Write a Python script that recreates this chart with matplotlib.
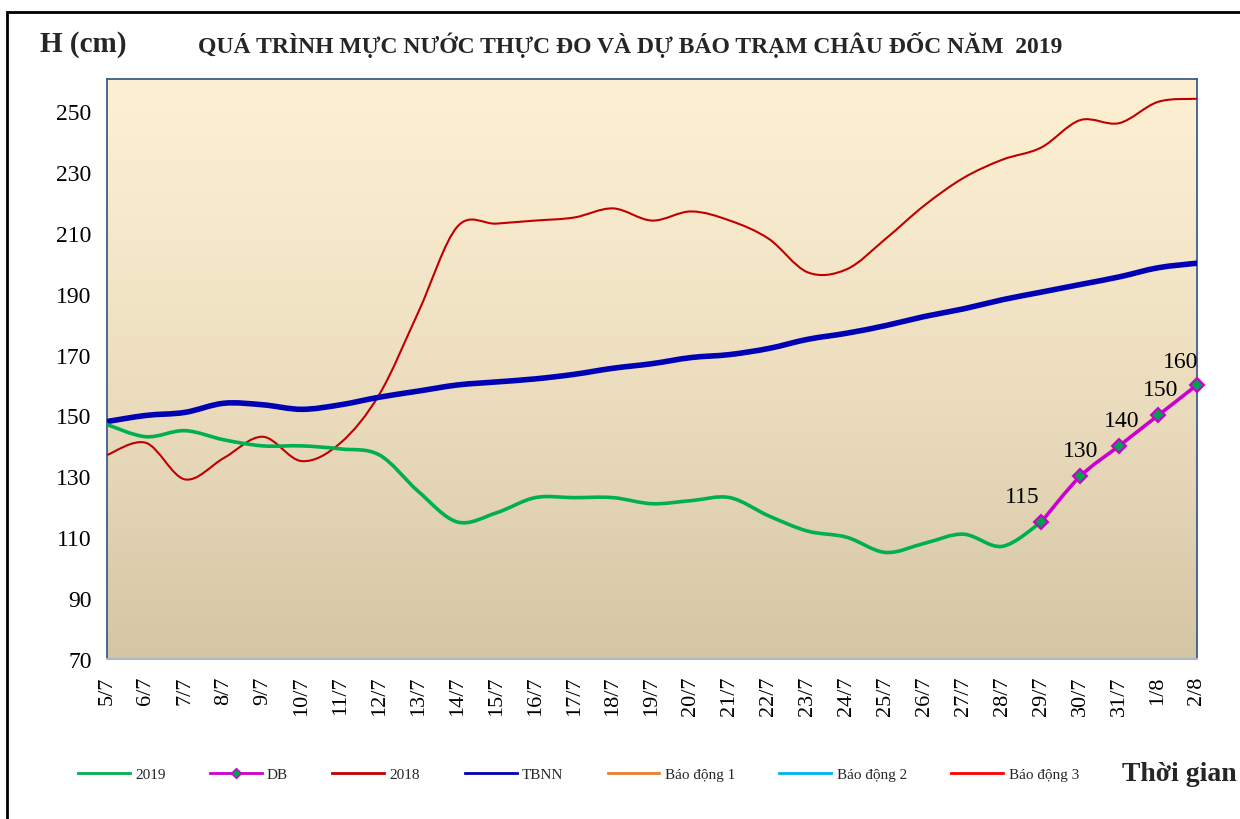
import numpy as np
import matplotlib
matplotlib.use("Agg")
import matplotlib.pyplot as plt
from matplotlib.path import Path
from matplotlib.patches import PathPatch, Rectangle
from matplotlib.lines import Line2D

plt.rcParams['font.family'] = ['Liberation Serif', 'DejaVu Serif']

days = ["5/7", "6/7", "7/7", "8/7", "9/7", "10/7", "11/7", "12/7", "13/7", "14/7",
        "15/7", "16/7", "17/7", "18/7", "19/7", "20/7", "21/7", "22/7", "23/7", "24/7",
        "25/7", "26/7", "27/7", "28/7", "29/7", "30/7", "31/7", "1/8", "2/8"]

h2019 = [147, 143, 145, 142, 140, 140, 139, 137, 125, 115, 118, 123, 123, 123, 121,
         122, 123, 117, 112, 110, 105, 108, 111, 107, 115]
db = [115, 130, 140, 150, 160]
h2018 = [137, 141, 129, 136, 143, 135, 141, 157, 184, 212, 213, 214, 215, 218, 214,
         217, 214, 208, 197, 198, 208, 219, 228, 234, 238, 247, 246, 253, 254]
tbnn = [148, 150, 151, 154, 153.5, 152, 153.5, 156, 158, 160, 161, 162, 163.5, 165.5,
        167, 169, 170, 172, 175, 177, 179.5, 182.5, 185, 188, 190.5, 193, 195.5, 198.5, 200]


def smooth_path(xs, ys):
    # Excel-style smoothed line: Catmull-Rom segments as cubic Bezier curves
    xs = np.asarray(xs, float)
    ys = np.asarray(ys, float)
    verts = [(xs[0], ys[0])]
    codes = [Path.MOVETO]
    n = len(xs)
    for i in range(n - 1):
        x0, y0 = (xs[i - 1], ys[i - 1]) if i > 0 else (xs[i], ys[i])
        x3, y3 = (xs[i + 2], ys[i + 2]) if i + 2 < n else (xs[i + 1], ys[i + 1])
        c1 = (xs[i] + (xs[i + 1] - x0) / 6, ys[i] + (ys[i + 1] - y0) / 6)
        c2 = (xs[i + 1] - (x3 - xs[i]) / 6, ys[i + 1] - (y3 - ys[i]) / 6)
        verts += [c1, c2, (xs[i + 1], ys[i + 1])]
        codes += [Path.CURVE4] * 3
    return Path(verts, codes)


fig = plt.figure(figsize=(12.4, 8.2), dpi=100)
ax = fig.add_axes([107 / 1240, 1 - 660 / 820, 1090 / 1240, 580 / 820])

# gradient background
grad = np.linspace(0, 1, 256).reshape(-1, 1)
top = np.array([253, 239, 210]) / 255
bot = np.array([212, 198, 164]) / 255
img = top + (bot - top) * grad[:, :, None] ** 1.3
ax.imshow(img, extent=[0, 1, 0, 1], transform=ax.transAxes, aspect="auto", zorder=0)

x = np.arange(len(days))

ax.add_patch(PathPatch(smooth_path(x, h2018), fill=False, edgecolor="#C00000", lw=1.5, zorder=3))
ax.add_patch(PathPatch(smooth_path(x, tbnn), fill=False, edgecolor="#0000B4", lw=4, zorder=4,
                       capstyle="round"))
ax.add_patch(PathPatch(smooth_path(x[:len(h2019)], h2019), fill=False, edgecolor="#00B050",
                       lw=2.6, zorder=5, capstyle="round"))
xdb = x[24:]
ax.add_patch(PathPatch(smooth_path(xdb, db), fill=False, edgecolor="#CC00CC", lw=2.6, zorder=6))
ax.plot(xdb, db, linestyle="none", marker="D", markersize=7, markerfacecolor="#00A050",
        markeredgecolor="#CC00CC", markeredgewidth=1.5, zorder=7, clip_on=False)

offsets = [(-14, 11), (0, 11), (2, 11), (2, 11), (-12, 9)]
for xi, v, off in zip(xdb, db, offsets):
    ax.annotate(str(v), (xi, v), xytext=off, textcoords="offset points",
                ha="center", va="bottom", fontsize=17, color="black", zorder=8)

ax.set_xlim(0, len(days) - 1)
ax.set_ylim(70, 260.5)
ax.set_yticks(range(70, 260, 20))
ax.set_xticks(x)
ax.set_xticklabels(days, rotation=90, fontsize=16)
ax.tick_params(axis="y", labelsize=17, length=0, pad=11)
ax.tick_params(axis="x", length=0, pad=12)
for lab in ax.get_xticklabels():
    lab.set_verticalalignment("top")
for s in ["left", "right", "top"]:
    ax.spines[s].set_color("#3B5E8C")
    ax.spines[s].set_linewidth(1.3)
ax.spines["bottom"].set_color("#A9B8CC")
ax.spines["bottom"].set_linewidth(1.5)

fig.text(40 / 1240, 1 - 45 / 820, "H (cm)", fontsize=21, fontweight="bold",
         va="center", ha="left", color="#262626")
fig.text(630 / 1240, 1 - 45 / 820,
         "QUÁ TRÌNH MỰC NƯỚC THỰC ĐO VÀ DỰ BÁO TRẠM CHÂU ĐỐC NĂM  2019",
         fontsize=17, fontweight="bold", va="center", ha="center", color="#262626")
fig.text(1122 / 1240, 1 - 775 / 820, "Thời gian", fontsize=20, fontweight="bold",
         va="center", ha="left", color="#262626")

handles = [
    Line2D([], [], color="#00B050", lw=2),
    Line2D([], [], color="#CC00CC", lw=2, marker="D", markersize=5,
           markerfacecolor="#00A050", markeredgecolor="#CC00CC"),
    Line2D([], [], color="#C00000", lw=2),
    Line2D([], [], color="#0000B4", lw=2),
    Line2D([], [], color="#ED7D31", lw=2),
    Line2D([], [], color="#00B0F0", lw=2),
    Line2D([], [], color="#FF0000", lw=2),
]
labels = ["2019", "DB", "2018", "TBNN", "Báo động 1", "Báo động 2", "Báo động 3"]
fig.legend(handles, labels, ncol=7, loc="center left", bbox_to_anchor=(70 / 1240, 1 - 775 / 820),
           frameon=False, fontsize=11, handlelength=3.4, columnspacing=2.9, handletextpad=0.35,
           borderpad=0, labelcolor="#262626")

fig.add_artist(Rectangle((7 / 1240, -0.1), 1.2, 1.1 - 13 / 820, transform=fig.transFigure,
                         fill=False, edgecolor="black", lw=2))

fig.savefig("out.png", dpi=100)
